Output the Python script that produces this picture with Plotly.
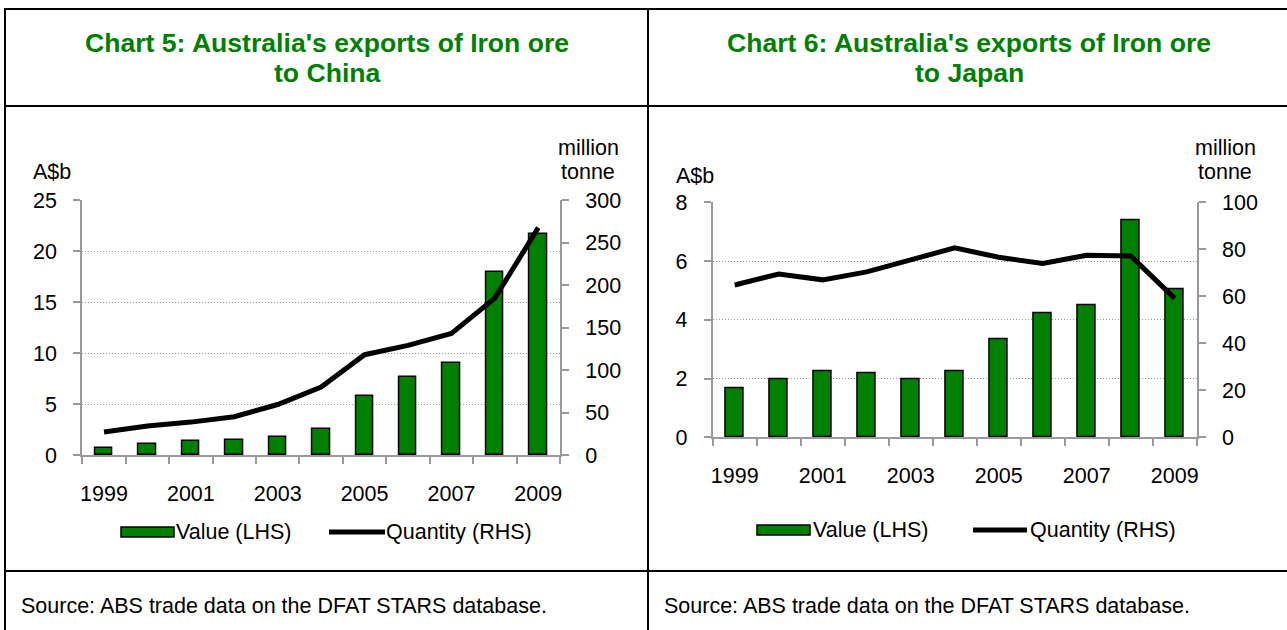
import plotly.graph_objects as go

W, H = 1287, 630

years = [1999, 2000, 2001, 2002, 2003, 2004, 2005, 2006, 2007, 2008, 2009]
label_years = ["1999", "2001", "2003", "2005", "2007", "2009"]

china_value = [0.72, 1.04, 1.37, 1.47, 1.73, 2.51, 5.77, 7.63, 9.03, 17.93, 21.68]
china_qty = [27, 34, 38.7, 45, 59.4, 80, 118, 129, 143, 184.5, 267.5]

japan_value = [1.68, 1.96, 2.23, 2.17, 1.99, 2.26, 3.32, 4.21, 4.51, 7.38, 5.04]
japan_qty = [64.8, 69.5, 67, 70.4, 75.5, 80.6, 76.6, 74, 77.5, 77.2, 59.1]

titles = [["Chart 5: Australia's exports of Iron ore", "to China"],
          ["Chart 6: Australia's exports of Iron ore", "to Japan"]]
source_text = "Source: ABS trade data on the DFAT STARS database."

GREEN = "#008000"
GRAY = "#9a9a9a"
FONT = "Liberation Sans, Arial, sans-serif"
FS = 21.5

def px(x):
    return x / W

def py(y):
    return 1 - y / H

xpos = list(range(len(years)))

fig = go.Figure()

fig.add_trace(go.Bar(x=xpos, y=china_value, width=0.4, marker=dict(color=GREEN, line=dict(color="black", width=1.5)),
                     xaxis="x", yaxis="y", showlegend=False, name="Value (LHS)"))
fig.add_trace(go.Scatter(x=xpos, y=china_qty, mode="lines", line=dict(color="black", width=5),
                         xaxis="x", yaxis="y2", showlegend=False, name="Quantity (RHS)"))
fig.add_trace(go.Bar(x=xpos, y=japan_value, width=0.4, marker=dict(color=GREEN, line=dict(color="black", width=1.5)),
                     xaxis="x2", yaxis="y3", showlegend=False, name="Value (LHS)"))
fig.add_trace(go.Scatter(x=xpos, y=japan_qty, mode="lines", line=dict(color="black", width=5),
                         xaxis="x2", yaxis="y4", showlegend=False, name="Quantity (RHS)"))

tickfont = dict(family=FONT, size=FS, color="black")

def xax(domain, anchor):
    return dict(domain=domain, anchor=anchor, range=[-0.5, len(years) - 0.5], automargin=False,
                tickmode="array", tickvals=[years.index(int(y)) for y in label_years], ticktext=label_years,
                ticks="", showgrid=False, zeroline=False, showline=True, linecolor=GRAY, linewidth=2,
                tickfont=tickfont, ticklabelstandoff=18,
                minor=dict(tickmode="array", tickvals=[i - 0.5 for i in range(len(years) + 1)],
                           ticks="outside", ticklen=7, tickwidth=2, tickcolor=GRAY, showgrid=False))

def yax_left(domain, anchor, rng, dtick):
    return dict(domain=domain, anchor=anchor, range=rng, dtick=dtick, tick0=0, showgrid=True, gridcolor=GRAY,
                griddash="1px,2px", gridwidth=1, zeroline=False, showline=True, linecolor=GRAY, linewidth=2,
                automargin=False,
                ticks="outside", ticklen=7, tickwidth=2, tickcolor=GRAY, tickfont=tickfont, ticklabelstandoff=12)

def yax_right(overlay, anchor, rng, dtick):
    return dict(overlaying=overlay, anchor=anchor, side="right", range=rng, dtick=dtick, tick0=0, showgrid=False,
                zeroline=False, showline=True, linecolor=GRAY, linewidth=2, ticks="outside", ticklen=7,
                automargin=False,
                tickwidth=2, tickcolor=GRAY, tickfont=tickfont, ticklabelstandoff=12)

L = dict(x0=82.3, x1=560.0, y0=200.0, y1=455.0)
R = dict(x0=712.7, x1=1196.7, y0=202.3, y1=437.3)

fig.update_layout(
    width=W, height=H, autosize=False,
    margin=dict(l=0, r=0, t=0, b=0, pad=0, autoexpand=False),
    paper_bgcolor="white", plot_bgcolor="white", bargap=0, showlegend=False,
    font=dict(family=FONT, size=FS, color="black"),
    xaxis=xax([px(L["x0"]), px(L["x1"])], "y"),
    yaxis=yax_left([py(L["y1"]), py(L["y0"])], "x", [0, 25], 5),
    yaxis2=yax_right("y", "x", [0, 300], 50),
    xaxis2=xax([px(R["x0"]), px(R["x1"])], "y3"),
    yaxis3=yax_left([py(R["y1"]), py(R["y0"])], "x2", [0, 8], 2),
    yaxis4=yax_right("y3", "x2", [0, 100], 20),
)

shapes = []
def hline(y, x0, x1, w=2):
    shapes.append(dict(type="line", xref="paper", yref="paper", x0=px(x0), x1=px(x1), y0=py(y), y1=py(y),
                       line=dict(color="black", width=w)))
def vline(x, y0, y1, w=2):
    shapes.append(dict(type="line", xref="paper", yref="paper", x0=px(x), x1=px(x), y0=py(y0), y1=py(y1),
                       line=dict(color="black", width=w)))

hline(9, 4, 1290)
hline(106, 4, 1290)
hline(571, 4, 1290)
vline(5, 8, 640)
vline(648, 8, 640)

annotations = []
def text(x, y, s, anchor="left", size=FS, color="black", bold=False):
    annotations.append(dict(xref="paper", yref="paper", x=px(x), y=py(y), text=("<b>%s</b>" % s) if bold else s,
                            showarrow=False, xanchor=anchor, yanchor="middle",
                            font=dict(family=FONT, size=size, color=color)))

# titles
for cx, t in zip([327, 969], titles):
    text(cx, 43, t[0], anchor="center", size=26.6, color=GREEN, bold=True)
    text(cx, 73, t[1], anchor="center", size=26.6, color=GREEN, bold=True)

# source
text(19, 606, source_text)
text(662, 606, source_text)

# axis unit labels
text(31, 172, "A$b")
text(674, 176, "A$b")
text(588, 148, "million", anchor="center")
text(588, 172, "tonne", anchor="center")
text(1225, 148, "million", anchor="center")
text(1225, 172, "tonne", anchor="center")

# legends
def legend(bx0, bx1, by, t1x, lx0, lx1, t2x):
    shapes.append(dict(type="rect", xref="paper", yref="paper", x0=px(bx0), x1=px(bx1), y0=py(by + 5), y1=py(by - 5),
                       fillcolor=GREEN, line=dict(color="black", width=1.5)))
    shapes.append(dict(type="line", xref="paper", yref="paper", x0=px(lx0), x1=px(lx1), y0=py(by), y1=py(by),
                       line=dict(color="black", width=5)))
    text(t1x, by, "Value (LHS)")
    text(t2x, by, "Quantity (RHS)")

legend(121, 174, 532, 174, 329, 385, 384)
legend(757, 810, 530, 811, 973, 1027, 1028)

fig.update_layout(shapes=shapes, annotations=annotations)

post = ("document.body.style.margin='0';document.body.style.overflow='hidden';"
        "var d=document.getElementById('{plot_id}');d.style.position='fixed';d.style.top='0px';d.style.left='0px';")
fig.write_html("out.html", config={"displayModeBar": False, "responsive": False}, post_script=post)
